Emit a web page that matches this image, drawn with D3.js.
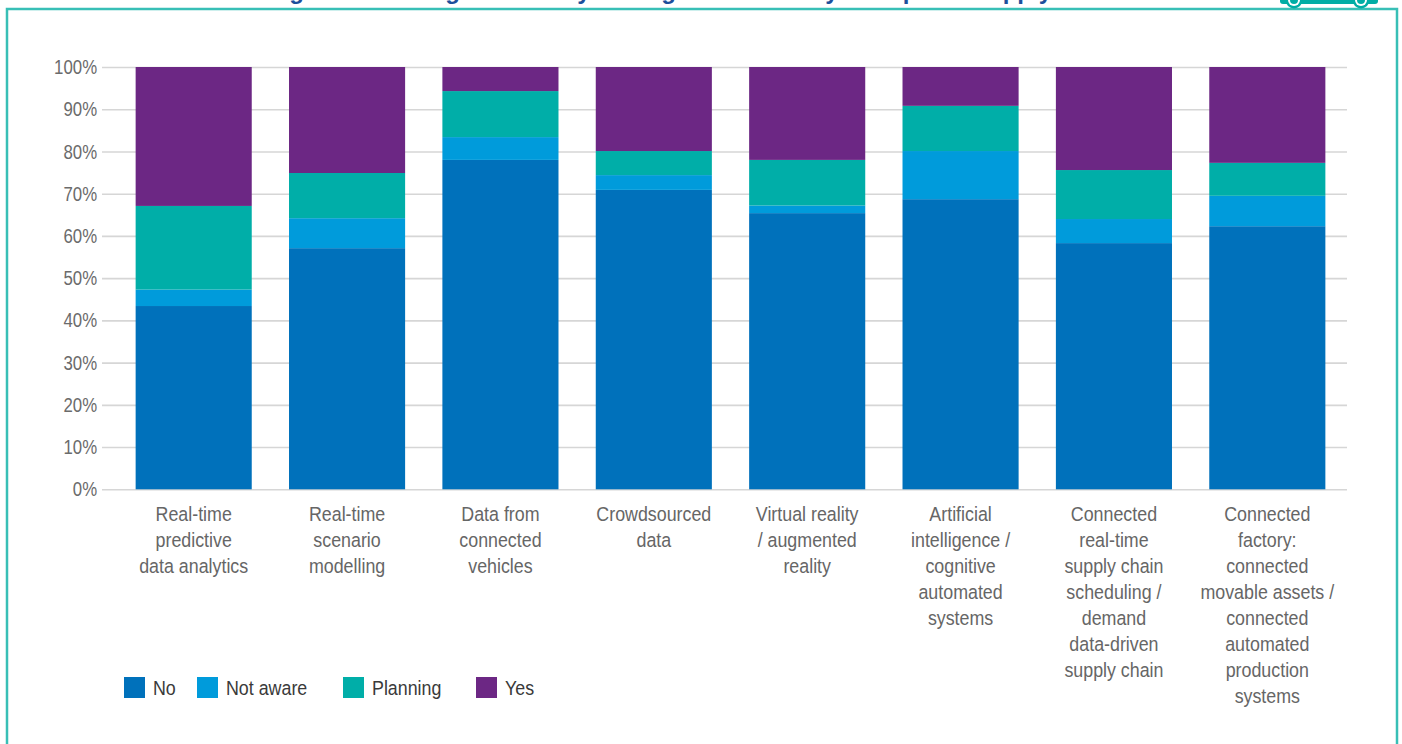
<!DOCTYPE html>
<html>
<head>
<meta charset="utf-8">
<script src="https://cdn.jsdelivr.net/npm/d3@7"></script>
<style>
  html, body { margin: 0; padding: 0; background: #fff; }
  svg { display: block; }
</style>
</head>
<body>
<div id="chart"></div>
<script>
// categories (one entry per bar, already broken into lines like the original)
const categories = [
  ["Real-time", "predictive", "data analytics"],
  ["Real-time", "scenario", "modelling"],
  ["Data from", "connected", "vehicles"],
  ["Crowdsourced", "data"],
  ["Virtual reality", "/ augmented", "reality"],
  ["Artificial", "intelligence /", "cognitive", "automated", "systems"],
  ["Connected", "real-time", "supply chain", "scheduling /", "demand", "data-driven", "supply chain"],
  ["Connected", "factory:", "connected", "movable assets /", "connected", "automated", "production", "systems"]
];
const seriesNames = ["No", "Not aware", "Planning", "Yes"];
// shares in %
const noValues       = [43.4, 57.1, 78.0, 70.9, 65.4, 68.7, 58.3, 62.3];
const notAwareValues = [ 3.9,  7.1,  5.4,  3.5,  1.8, 11.4,  5.7,  7.2];
const planningValues = [19.8, 10.7, 10.9,  5.7, 10.8, 10.7, 11.6,  7.8];
const yesValues      = [32.9, 25.1,  5.7, 19.9, 22.0,  9.2, 24.4, 22.7];
const yTicks = [0, 10, 20, 30, 40, 50, 60, 70, 80, 90, 100];
const colors = ["#0071bb", "#009bdb", "#00aea8", "#6c2784"];

const W = 1402, H = 744;
// no condensed face is installed, so Liberation Sans gets squeezed sideways
const font = '"Liberation Sans", Arial, sans-serif';
const squeeze = 0.87;

const svg = d3.select("#chart").append("svg")
  .attr("width", W)
  .attr("height", H);

svg.append("rect").attr("width", W).attr("height", H).attr("fill", "#fff");

// title sits above the frame and is cut by the top edge, as in the original
svg.append("text")
  .attr("x", 700)
  .attr("y", -1)
  .attr("text-anchor", "middle")
  .attr("font-family", font)
  .attr("font-weight", "bold")
  .attr("font-size", 24)
  .attr("fill", "#1d4f9c")
  .text("Digital technologies used by the logistics industry to improve supply chains");

// frame
svg.append("rect")
  .attr("x", 7).attr("y", 9)
  .attr("width", 1390).attr("height", 780)
  .attr("fill", "none")
  .attr("stroke", "#38bfb6")
  .attr("stroke-width", 2.5);

// truck logo, cut off at the top
let logo = svg.append("g").attr("fill", "#00ada5");
logo.append("rect").attr("x", 1280).attr("y", -10).attr("width", 98).attr("height", 14).attr("rx", 3);
[1294, 1361].forEach(cx => {
  logo.append("circle").attr("cx", cx).attr("cy", 0).attr("r", 8.5);
  logo.append("circle").attr("cx", cx).attr("cy", 0).attr("r", 6).attr("fill", "#fff");
  logo.append("circle").attr("cx", cx).attr("cy", 0).attr("r", 4);
});

// scales
const names = categories.map(c => c.join(" "));
const x = d3.scaleBand()
  .domain(names)
  .range([117, 1344])
  .paddingInner(0.243)
  .paddingOuter(0.1215);
const y = d3.scaleLinear()
  .domain([0, 100])
  .range([489.3, 67]);

// gridlines + y labels
const yAxis = svg.append("g")
  .attr("transform", "translate(102,0)")
  .call(d3.axisLeft(y)
    .tickValues(yTicks)
    .tickFormat(d => d + "%")
    .tickSize(-(1347 - 102))
    .tickPadding(6));
yAxis.select(".domain").remove();
yAxis.selectAll(".tick line")
  .attr("stroke", "#d6d6d6")
  .attr("stroke-width", 1.6);
yAxis.selectAll(".tick text")
  .attr("font-family", font)
  .attr("font-size", 20.5)
  .attr("fill", "#6b6b6b")
  .attr("transform", "scale(0.82,1)");

// stacked bars
const rows = names.map((n, i) => ({
  name: n,
  "No": noValues[i],
  "Not aware": notAwareValues[i],
  "Planning": planningValues[i],
  "Yes": yesValues[i]
}));
const stacked = d3.stack().keys(seriesNames)(rows);

svg.append("g").selectAll("g")
  .data(stacked)
  .enter().append("g")
    .attr("fill", (d, i) => colors[i])
  .selectAll("rect")
  .data(d => d)
  .enter().append("rect")
    .attr("x", d => x(d.data.name))
    .attr("width", x.bandwidth())
    .attr("y", d => y(d[1]))
    .attr("height", d => y(d[0]) - y(d[1]));

// category labels
const labels = svg.append("g")
  .attr("font-family", font)
  .attr("font-size", 20.5)
  .attr("fill", "#666")
  .attr("text-anchor", "middle");
categories.forEach((lines, i) => {
  let cx = x(names[i]) + x.bandwidth() / 2;
  let t = labels.append("text")
    .attr("transform", "translate(" + cx + ",521) scale(" + squeeze + ",1)");
  lines.forEach((line, j) => {
    t.append("tspan")
      .attr("x", 0)
      .attr("dy", j === 0 ? 0 : 26)
      .text(line);
  });
});

// legend
const legendX = [124, 197, 343, 476];
const legend = svg.append("g")
  .attr("font-family", font)
  .attr("font-size", 20.5)
  .attr("fill", "#3a3a3a");
seriesNames.forEach((name, i) => {
  legend.append("rect")
    .attr("x", legendX[i]).attr("y", 677)
    .attr("width", 21).attr("height", 21)
    .attr("fill", colors[i]);
  legend.append("text")
    .attr("transform", "translate(" + (legendX[i] + 29) + ",695) scale(" + squeeze + ",1)")
    .text(name);
});
</script>
</body>
</html>
